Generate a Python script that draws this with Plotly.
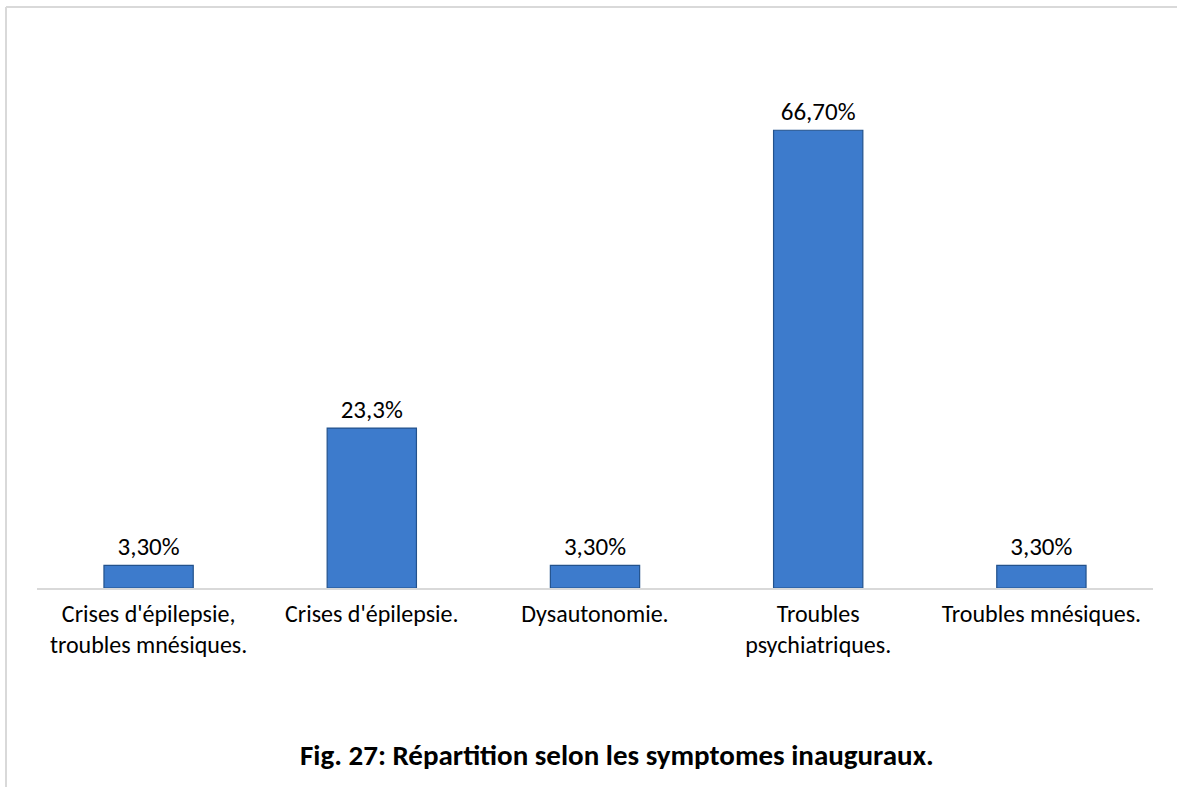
import plotly.graph_objects as go

categories = [
    "Crises d'épilepsie,<br>troubles mnésiques.",
    "Crises d'épilepsie.",
    "Dysautonomie.",
    "Troubles<br>psychiatriques.",
    "Troubles mnésiques.",
]
values = [3.3, 23.3, 3.3, 66.7, 3.3]
value_labels = ["3,30%", "23,3%", "3,30%", "66,70%", "3,30%"]
title_text = "<b>Fig. 27: Répartition selon les symptomes inauguraux.</b>"

FONT = "Carlito, Calibri, Lato, sans-serif"

W, H = 1177, 787
L, R, T, B = 37, 24, 39, 199
pw, ph = W - L - R, H - T - B

def px_x(x):
    return (x - L) / pw

def px_y(y):
    return (H - B - y) / ph

fig = go.Figure()
fig.add_trace(go.Bar(
    x=categories,
    y=values,
    width=0.4,
    marker=dict(color="#3d7bcc", line=dict(color="#23528c", width=1.2)),
    text=value_labels,
    textposition="outside",
    textfont=dict(family=FONT, size=25, color="#000000"),
    cliponaxis=False,
))

fig.update_layout(
    width=W, height=H,
    margin=dict(l=L, r=R, t=T, b=B),
    paper_bgcolor="white", plot_bgcolor="white",
    showlegend=False,
    font=dict(family=FONT, size=24, color="#000000"),
    xaxis=dict(showline=True, linecolor="#d9d9d9", linewidth=2,
               showgrid=False, ticks="", ticklabelstandoff=3,
               tickfont=dict(family=FONT, size=24, color="#000000")),
    yaxis=dict(range=[0, 80], visible=False, showgrid=False, zeroline=False),
    bargap=0.6,
)

fig.add_annotation(
    text=title_text, xref="paper", yref="paper",
    x=px_x(617), y=px_y(755), xanchor="center", yanchor="middle",
    showarrow=False, font=dict(family=FONT, size=29, color="#000000"),
)

# outer frame (decoration)
frame = dict(type="line", xref="paper", yref="paper", line=dict(color="#d9d9d9", width=2))
fig.add_shape(**frame, x0=px_x(6), x1=px_x(1177), y0=px_y(7), y1=px_y(7))
fig.add_shape(**frame, x0=px_x(6), x1=px_x(6), y0=px_y(7), y1=px_y(787))

fig.write_html("out.html", config={"displayModeBar": False},
               post_script="document.body.style.margin='0';")
